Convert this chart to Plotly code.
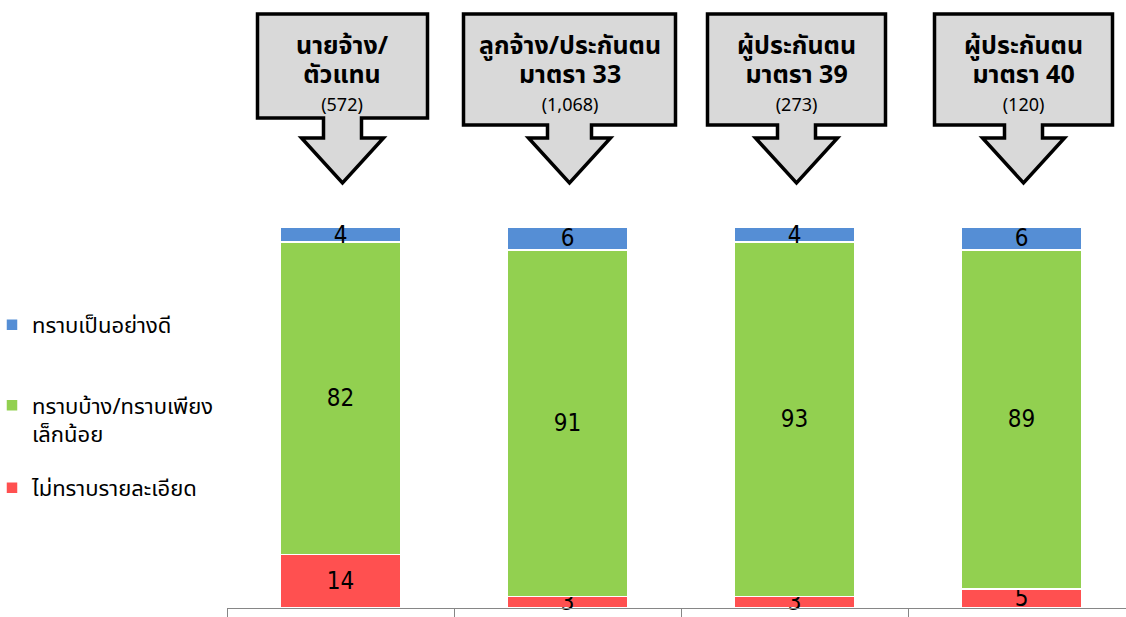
import plotly.graph_objects as go

# ---------------- data ----------------
categories = ["นายจ้าง/ตัวแทน", "ลูกจ้าง/ประกันตน มาตรา 33",
              "ผู้ประกันตน มาตรา 39", "ผู้ประกันตน มาตรา 40"]
box_line1 = ["นายจ้าง/", "ลูกจ้าง/ประกันตน", "ผู้ประกันตน", "ผู้ประกันตน"]
box_line2 = ["ตัวแทน", "มาตรา 33", "มาตรา 39", "มาตรา 40"]
box_count = ["(572)", "(1,068)", "(273)", "(120)"]

series_names = ["ไม่ทราบรายละเอียด", "ทราบบ้าง/ทราบเพียง<br>เล็กน้อย", "ทราบเป็นอย่างดี"]
not_know = [14, 3, 3, 5]
know_some = [82, 91, 93, 89]
know_well = [4, 6, 4, 6]

colors = ["#FF5050", "#92D050", "#558ED5"]

# ---------------- layout constants ----------------
W, H = 1126, 617
ML, MT, MB = 227, 227, 9
PLOT_W = W - ML
PLOT_H = H - MT - MB
CAT_PX = 227.0
THAI = "Tahoma, 'Noto Sans Thai', 'Noto Sans Thai UI', 'Leelawadee UI', 'Noto Sans', sans-serif"
NUMF = "'Liberation Sans Narrow', 'Arial Narrow', 'DejaVu Sans Condensed', sans-serif"


def py(pix):
    """pixel row -> paper y"""
    return (H - MB - pix) / PLOT_H


def px(pix):
    """pixel column -> paper x"""
    return (pix - ML) / PLOT_W


fig = go.Figure()
legends = ["legend3", "legend2", "legend"]
for vals, name, col, lg in zip([not_know, know_some, know_well], series_names, colors, legends):
    fig.add_trace(go.Bar(
        x=categories, y=vals, name=name,
        marker=dict(color=col, line=dict(color="white", width=1.5)),
        text=[str(v) for v in vals], textposition="inside", textangle=0,
        constraintext="none", insidetextanchor="middle", cliponaxis=False,
        textfont=dict(family=NUMF, size=24, color="black"),
        width=0.533, legend=lg, hoverinfo="skip",
    ))

# ---------------- callout arrows ----------------
box_half = [85, 106, 89, 89]
box_bottom = [118, 125, 125, 125]
stem_half = [19, 22, 19, 19]
head_half = 41
box_top, head_top, tip_y = 14, 138, 183
shift = 2

shapes = []
annotations = []
for i in range(len(categories)):
    c = i + shift / CAT_PX
    L = c - box_half[i] / CAT_PX
    R = c + box_half[i] / CAT_PX
    sL = c - stem_half[i] / CAT_PX
    sR = c + stem_half[i] / CAT_PX
    hL = c - head_half / CAT_PX
    hR = c + head_half / CAT_PX
    yt, yb, yh, ytip = py(box_top), py(box_bottom[i]), py(head_top), py(tip_y)
    path = (f"M{L},{yt} L{R},{yt} L{R},{yb} L{sR},{yb} L{sR},{yh} L{hR},{yh} "
            f"L{c},{ytip} L{hL},{yh} L{sL},{yh} L{sL},{yb} L{L},{yb} Z")
    shapes.append(dict(type="path", xref="x", yref="paper", path=path,
                       fillcolor="#D9D9D9", line=dict(color="black", width=3.5),
                       layer="above"))
    text = (f"<span style='font-size:25px'><b>{box_line1[i]}</b></span><br>"
            f"<span style='font-size:25px'><b>{box_line2[i]}</b></span><br>"
            f"<span style='font-size:18px'>{box_count[i]}</span>")
    annotations.append(dict(
        x=i, xref="x", xshift=shift, y=py(73), yref="paper",
        text=text, showarrow=False,
        font=dict(family=THAI, size=22, color="black"),
        xanchor="center", yanchor="middle", align="center"))

leg_common = dict(xref="paper", yref="paper", xanchor="left", yanchor="middle",
                  bgcolor="rgba(0,0,0,0)", borderwidth=0,
                  font=dict(family=THAI, size=22, color="black"), valign="top",
                  itemclick=False, itemdoubleclick=False)

fig.update_layout(
    width=W, height=H,
    margin=dict(l=ML, r=0, t=MT, b=MB, autoexpand=False),
    paper_bgcolor="white", plot_bgcolor="white",
    barmode="stack", bargap=0.467,
    showlegend=True,
    legend=dict(x=px(-8), y=py(325), **leg_common),
    legend2=dict(x=px(-8), y=py(420), **leg_common),
    legend3=dict(x=px(-8), y=py(488), **leg_common),
    xaxis=dict(type="category", range=[-0.5, -0.5 + PLOT_W / CAT_PX],
               showticklabels=False, showline=True, linecolor="#868686", linewidth=1,
               ticks="outside", tickson="boundaries", ticklen=10, tickcolor="#868686",
               showgrid=False, zeroline=False, fixedrange=True),
    yaxis=dict(range=[0, 100], visible=False, showgrid=False, zeroline=False, fixedrange=True),
    shapes=shapes, annotations=annotations,
)

fig.write_html("out.html")
